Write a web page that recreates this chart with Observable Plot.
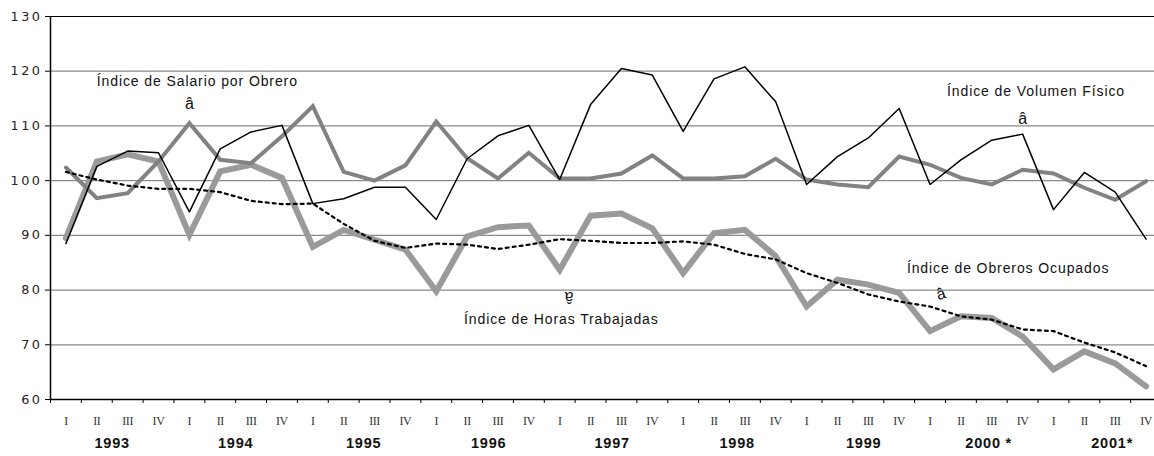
<!DOCTYPE html>
<html><head><meta charset="utf-8">
<script src="https://cdn.jsdelivr.net/npm/d3@7"></script>
<script src="https://cdn.jsdelivr.net/npm/@observablehq/plot@0.6"></script>
<style>
html,body{margin:0;padding:0;background:#fff;overflow:hidden;}
#chart svg{max-width:none !important;}
</style></head><body><div id="chart"></div>
<script>
// ---- data ----
const quarterLabels = ["I", "II", "III", "IV"];
const years = ["1993", "1994", "1995", "1996", "1997", "1998", "1999", "2000 *", "2001*"];
const yearLabelAt = [1.5, 5.5, 9.65, 13.7, 17.7, 21.75, 25.85, 29.9, 33.9];
const yTicks = [60, 70, 80, 90, 100, 110, 120, 130];

const volumen = [88.5, 102.6, 105.4, 105.1, 94.3, 105.8, 108.9, 110.1, 95.8, 96.7, 98.8, 98.8,
  92.9, 104.0, 108.2, 110.1, 100.2, 113.9, 120.5, 119.3, 109.0, 118.6, 120.8, 114.4,
  99.3, 104.4, 107.8, 113.2, 99.3, 103.8, 107.4, 108.5, 94.7, 101.5, 97.9, 89.3];
const salario = [102.4, 96.8, 97.7, 103.5, 110.5, 103.8, 103.2, 108.1, 113.6, 101.6, 100.0, 102.8,
  110.8, 104.1, 100.4, 105.1, 100.4, 100.4, 101.3, 104.6, 100.4, 100.4, 100.8, 104.0,
  100.2, 99.3, 98.8, 104.4, 102.9, 100.5, 99.3, 102.0, 101.3, 98.7, 96.5, 99.9];
const horas = [89.5, 103.5, 104.8, 103.5, 90.1, 101.7, 102.9, 100.5, 87.9, 91.0, 89.2, 87.4,
  79.8, 89.8, 91.5, 91.8, 83.7, 93.6, 94.0, 91.3, 83.1, 90.4, 91.0, 86.2,
  77.0, 81.9, 81.0, 79.5, 72.5, 75.2, 74.9, 71.5, 65.5, 68.8, 66.6, 62.4];
const obreros = [101.6, 100.2, 99.1, 98.5, 98.5, 97.9, 96.3, 95.7, 95.8, 92.1, 89.0, 87.7,
  88.5, 88.3, 87.5, 88.3, 89.3, 89.0, 88.6, 88.6, 88.9, 88.3, 86.6, 85.6,
  83.1, 81.3, 79.2, 77.9, 77.0, 75.2, 74.6, 72.8, 72.5, 70.4, 68.6, 66.1];

const annLabels = ["Índice de Salario por Obrero", "Índice de Volumen Físico",
  "Índice de Horas Trabajadas", "Índice de Obreros Ocupados"];
const annX = [1.0, 28.55, 12.9, 27.25];
const annY = [118.1, 116.2, 74.6, 83.9];
const arrowX = [4.0, 31.0, 16.3, 28.35];
const arrowY = [114.0, 111.3, 78.8, 79.3];
const arrowRotate = [0, 0, 180, -18];

// ---- build ----
const table = volumen.map((v, i) => ({i, volumen: v, salario: salario[i], horas: horas[i], obreros: obreros[i]}));
const xDomain = [-0.5, volumen.length - 0.5];
const boundaries = table.map(d => d.i - 0.5).concat([xDomain[1]]);
const ann = annLabels.map((t, k) => ({t, x: annX[k], y: annY[k], ax: arrowX[k], ay: arrowY[k], r: arrowRotate[k]}));

const chart = Plot.plot({
  width: 1161, height: 456,
  marginLeft: 50, marginRight: 0, marginTop: 16, marginBottom: 57,
  style: {background: "white", maxWidth: "none", fontFamily: "Liberation Sans"},
  x: {domain: xDomain},
  y: {domain: [yTicks[0], yTicks[yTicks.length - 1]]},
  marks: [
    Plot.gridY(yTicks.slice(1, -1), {stroke: "#8a8a8a", strokeOpacity: 1, strokeWidth: 1.2}),
    Plot.ruleY([yTicks[yTicks.length - 1]], {stroke: "black", strokeWidth: 1.2}),
    Plot.ruleY([yTicks[0]], {stroke: "black", strokeWidth: 1.4}),
    Plot.ruleX([xDomain[0]], {stroke: "black", strokeWidth: 1.5}),
    Plot.axisY(yTicks, {tickSize: 5, tickPadding: 3, fontSize: 12.8, fontFamily: "DejaVu Sans", color: "#222", stroke: "black"}),
    Plot.axisX(boundaries, {tickSize: 4, tickFormat: () => "", stroke: "black"}),
    Plot.text(table, {x: "i", text: d => quarterLabels[d.i % 4], frameAnchor: "bottom", dy: 25.5,
      fontFamily: "Liberation Serif", fontSize: 12, fill: "#333"}),
    Plot.text(years, {x: (d, k) => yearLabelAt[k], text: d => d, frameAnchor: "bottom", dy: 48,
      fontFamily: "Liberation Sans", fontWeight: "bold", fontSize: 14.5, fill: "#111"}),
    Plot.line(table, {x: "i", y: "horas", stroke: "#9a9a9a", strokeWidth: 6, strokeLinejoin: "miter", strokeMiterlimit: 3}),
    Plot.line(table, {x: "i", y: "salario", stroke: "#828282", strokeWidth: 4, strokeLinejoin: "miter", strokeMiterlimit: 3}),
    Plot.line(table, {x: "i", y: "volumen", stroke: "black", strokeWidth: 1.5}),
    Plot.line(table, {x: "i", y: "obreros", stroke: "black", strokeWidth: 2.2, strokeDasharray: "3 4"}),
    Plot.text(ann, {x: "x", y: "y", text: "t", textAnchor: "start", fontSize: 14,
      fontFamily: "Liberation Sans", fill: "#111"}),
    Plot.text(ann, {x: "ax", y: "ay", text: () => "â", rotate: "r", fontSize: 16,
      fontFamily: "Liberation Sans", fill: "#111"})
  ]
});

// letter-spacing tweaks (text is stretched in the original)
const yLabelSet = new Set(yTicks.map(String));
const annSet = new Set(annLabels);
const yearSet = new Set(years);
const romanSet = new Set(quarterLabels);
d3.select(chart).selectAll("text").each(function () {
  const t = this.textContent;
  if (yLabelSet.has(t)) this.setAttribute("letter-spacing", "2.5");
  else if (annSet.has(t)) this.setAttribute("letter-spacing", "0.9");
  else if (yearSet.has(t)) this.setAttribute("letter-spacing", "0.8");
  else if (romanSet.has(t)) this.setAttribute("letter-spacing", "-0.4");
});
document.getElementById("chart").appendChild(chart);
</script></body></html>
